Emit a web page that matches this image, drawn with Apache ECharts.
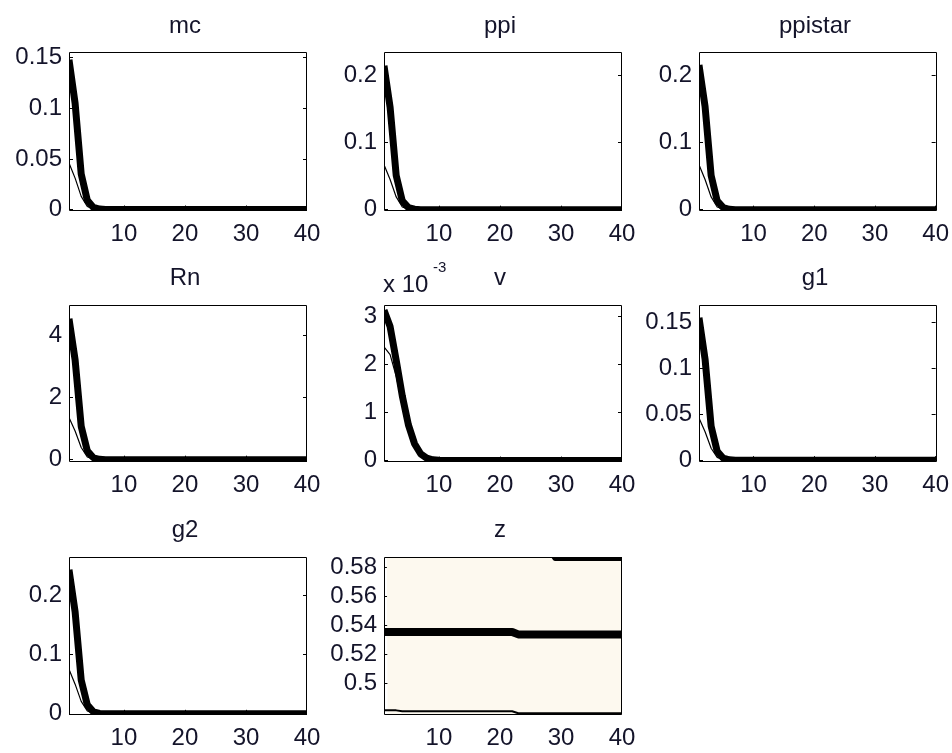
<!DOCTYPE html>
<html>
<head>
<meta charset="utf-8">
<title>IRF</title>
<script src="https://cdn.jsdelivr.net/npm/echarts@6/dist/echarts.min.js"></script>
<style>
  html, body { margin: 0; padding: 0; background: #fff; }
  #chart { width: 952px; height: 753px; }
</style>
</head>
<body>
<div id="chart"></div>
<script>
// horizon of the impulse responses
var periods = [1, 2, 3, 4, 5, 6, 7, 8, 9, 10,
               11, 12, 13, 14, 15, 16, 17, 18, 19, 20,
               21, 22, 23, 24, 25, 26, 27, 28, 29, 30,
               31, 32, 33, 34, 35, 36, 37, 38, 39, 40];
var xTicks = [10, 20, 30, 40];
var xTicksTop = [10, 20, 30];

// mean response (thick line) and lower band (thin line)
var mcMean = [0.148, 0.105, 0.035, 0.009, 0.002, 0.0004, 0, 0, 0, 0,
              0, 0, 0, 0, 0, 0, 0, 0, 0, 0,
              0, 0, 0, 0, 0, 0, 0, 0, 0, 0,
              0, 0, 0, 0, 0, 0, 0, 0, 0, 0];
var mcLower = [0.046, 0.031, 0.013, 0.003, 0.0005, 0, 0, 0, 0, 0,
               0, 0, 0, 0, 0, 0, 0, 0, 0, 0,
               0, 0, 0, 0, 0, 0, 0, 0, 0, 0,
               0, 0, 0, 0, 0, 0, 0, 0, 0, 0];
var mcTicks = [0, 0.05, 0.1, 0.15];

var ppiMean = [0.215, 0.153, 0.051, 0.013, 0.003, 0.0006, 0, 0, 0, 0,
               0, 0, 0, 0, 0, 0, 0, 0, 0, 0,
               0, 0, 0, 0, 0, 0, 0, 0, 0, 0,
               0, 0, 0, 0, 0, 0, 0, 0, 0, 0];
var ppiLower = [0.067, 0.045, 0.019, 0.004, 0.0007, 0, 0, 0, 0, 0,
                0, 0, 0, 0, 0, 0, 0, 0, 0, 0,
                0, 0, 0, 0, 0, 0, 0, 0, 0, 0,
                0, 0, 0, 0, 0, 0, 0, 0, 0, 0];
var ppiTicks = [0, 0.1, 0.2];

var ppistarMean = [0.216, 0.154, 0.051, 0.013, 0.003, 0.0006, 0, 0, 0, 0,
                   0, 0, 0, 0, 0, 0, 0, 0, 0, 0,
                   0, 0, 0, 0, 0, 0, 0, 0, 0, 0,
                   0, 0, 0, 0, 0, 0, 0, 0, 0, 0];
var ppistarLower = [0.067, 0.045, 0.019, 0.004, 0.0007, 0, 0, 0, 0, 0,
                    0, 0, 0, 0, 0, 0, 0, 0, 0, 0,
                    0, 0, 0, 0, 0, 0, 0, 0, 0, 0,
                    0, 0, 0, 0, 0, 0, 0, 0, 0, 0];
var ppistarTicks = [0, 0.1, 0.2];

var rnMean = [4.52, 3.2, 1.07, 0.28, 0.06, 0.012, 0, 0, 0, 0,
              0, 0, 0, 0, 0, 0, 0, 0, 0, 0,
              0, 0, 0, 0, 0, 0, 0, 0, 0, 0,
              0, 0, 0, 0, 0, 0, 0, 0, 0, 0];
var rnLower = [1.35, 0.92, 0.39, 0.09, 0.015, 0, 0, 0, 0, 0,
               0, 0, 0, 0, 0, 0, 0, 0, 0, 0,
               0, 0, 0, 0, 0, 0, 0, 0, 0, 0,
               0, 0, 0, 0, 0, 0, 0, 0, 0, 0];
var rnTicks = [0, 2, 4];

// v is shown in units of 10^-3
var vMean = [3.12, 2.78, 2.08, 1.34, 0.74, 0.35, 0.14, 0.05, 0.015, 0.004,
             0, 0, 0, 0, 0, 0, 0, 0, 0, 0,
             0, 0, 0, 0, 0, 0, 0, 0, 0, 0,
             0, 0, 0, 0, 0, 0, 0, 0, 0, 0];
var vLower = [2.36, 2.2, 1.75, 1.15, 0.62, 0.28, 0.11, 0.035, 0.01, 0.003,
              0, 0, 0, 0, 0, 0, 0, 0, 0, 0,
              0, 0, 0, 0, 0, 0, 0, 0, 0, 0,
              0, 0, 0, 0, 0, 0, 0, 0, 0, 0];
var vTicks = [0, 1, 2, 3];

var g1Mean = [0.155, 0.11, 0.037, 0.0095, 0.0021, 0.0004, 0, 0, 0, 0,
              0, 0, 0, 0, 0, 0, 0, 0, 0, 0,
              0, 0, 0, 0, 0, 0, 0, 0, 0, 0,
              0, 0, 0, 0, 0, 0, 0, 0, 0, 0];
var g1Lower = [0.046, 0.031, 0.013, 0.003, 0.0005, 0, 0, 0, 0, 0,
               0, 0, 0, 0, 0, 0, 0, 0, 0, 0,
               0, 0, 0, 0, 0, 0, 0, 0, 0, 0,
               0, 0, 0, 0, 0, 0, 0, 0, 0, 0];
var g1Ticks = [0, 0.05, 0.1, 0.15];

var g2Mean = [0.243, 0.172, 0.057, 0.015, 0.0033, 0.0007, 0, 0, 0, 0,
              0, 0, 0, 0, 0, 0, 0, 0, 0, 0,
              0, 0, 0, 0, 0, 0, 0, 0, 0, 0,
              0, 0, 0, 0, 0, 0, 0, 0, 0, 0];
var g2Lower = [0.075, 0.05, 0.021, 0.005, 0.0008, 0, 0, 0, 0, 0,
               0, 0, 0, 0, 0, 0, 0, 0, 0, 0,
               0, 0, 0, 0, 0, 0, 0, 0, 0, 0,
               0, 0, 0, 0, 0, 0, 0, 0, 0, 0];
var g2Ticks = [0, 0.1, 0.2];

var zMean = [0.5354, 0.5354, 0.5354, 0.5354, 0.5354, 0.5354, 0.5354, 0.5354, 0.5354, 0.5354,
             0.5354, 0.5354, 0.5354, 0.5354, 0.5354, 0.5354, 0.5354, 0.5354, 0.5354, 0.5354,
             0.5354, 0.5354, 0.5337, 0.5337, 0.5337, 0.5337, 0.5337, 0.5337, 0.5337, 0.5337,
             0.5337, 0.5337, 0.5337, 0.5337, 0.5337, 0.5337, 0.5337, 0.5337, 0.5337, 0.5337];
var zLower = [0.4812, 0.4812, 0.4812, 0.4806, 0.4806, 0.4806, 0.4806, 0.4806, 0.4806, 0.4806,
              0.4806, 0.4806, 0.4806, 0.4806, 0.4806, 0.4806, 0.4806, 0.4806, 0.4806, 0.4806,
              0.4806, 0.4806, 0.4792, 0.4792, 0.4792, 0.4792, 0.4792, 0.4792, 0.4792, 0.4792,
              0.4792, 0.4792, 0.4792, 0.4792, 0.4792, 0.4792, 0.4792, 0.4792, 0.4792, 0.4792];
var zUpper = [0.592, 0.592, 0.592, 0.592, 0.592, 0.592, 0.592, 0.592, 0.592, 0.592,
              0.592, 0.592, 0.592, 0.592, 0.592, 0.592, 0.592, 0.592, 0.592, 0.592,
              0.592, 0.592, 0.592, 0.592, 0.592, 0.592, 0.592, 0.592, 0.5858, 0.5858,
              0.5858, 0.5858, 0.5858, 0.5858, 0.5858, 0.5858, 0.5858, 0.5858, 0.5858, 0.5858];
var zTicks = [0.5, 0.52, 0.54, 0.56, 0.58];

// layout of the 3x3 subplot grid (px)
var colLeft = [69, 384, 699];
var colW = 238;
var rowTop = [52, 305, 557];
var rowH = [159, 157, 158];
var titleTop = [14, 266, 518];

var panels = [
  { name: 'mc', mean: mcMean, lower: mcLower, ticks: mcTicks, min: -0.0015, max: 0.1556, col: 0, row: 0 },
  { name: 'ppi', mean: ppiMean, lower: ppiLower, ticks: ppiTicks, min: -0.002, max: 0.2354, col: 1, row: 0 },
  { name: 'ppistar', mean: ppistarMean, lower: ppistarLower, ticks: ppistarTicks, min: -0.002, max: 0.2354, col: 2, row: 0 },
  { name: 'Rn', mean: rnMean, lower: rnLower, ticks: rnTicks, min: -0.075, max: 4.96, col: 0, row: 1 },
  { name: 'v', mean: vMean, lower: vLower, ticks: vTicks, min: -0.03, max: 3.228, col: 1, row: 1 },
  { name: 'g1', mean: g1Mean, lower: g1Lower, ticks: g1Ticks, min: -0.002, max: 0.169, col: 2, row: 1 },
  { name: 'g2', mean: g2Mean, lower: g2Lower, ticks: g2Ticks, min: -0.002, max: 0.2644, col: 0, row: 2 },
  { name: 'z', mean: zMean, lower: zLower, upper: zUpper, ticks: zTicks, min: 0.478, max: 0.5872, col: 1, row: 2 }
];

var font = "'Liberation Sans', Arial, sans-serif";
var ink = '#14142a';
var bandColor = '#fdf9ef';

function pairs(vals) {
  return periods.map(function (t, k) { return [t, vals[k]]; });
}

var grids = [], xAxes = [], yAxes = [], series = [], titles = [], graphics = [];

panels.forEach(function (p, i) {
  var left = colLeft[p.col], top = rowTop[p.row], h = rowH[p.row];
  grids.push({ left: left, top: top, width: colW, height: h, show: false });

  titles.push({
    text: p.name, left: left + colW / 2 - 3, top: titleTop[p.row], textAlign: 'center', padding: 0,
    textStyle: { fontFamily: font, fontSize: 24, fontWeight: 'normal', color: ink }
  });

  var tick = { show: true, inside: true, length: 4, lineStyle: { color: '#000', width: 1 } };
  xAxes.push({
    gridIndex: i, type: 'value', min: 1, max: 40, position: 'bottom',
    axisLine: { show: false }, splitLine: { show: false },
    axisTick: Object.assign({ customValues: xTicks }, tick),
    axisLabel: { customValues: xTicks, margin: 11, fontFamily: font, fontSize: 24, color: ink }
  });
  xAxes.push({
    gridIndex: i, type: 'value', min: 1, max: 40, position: 'top',
    axisLine: { show: false }, splitLine: { show: false },
    axisTick: Object.assign({ customValues: xTicksTop }, tick),
    axisLabel: { show: false }
  });
  yAxes.push({
    gridIndex: i, type: 'value', min: p.min, max: p.max, position: 'left',
    axisLine: { show: false }, splitLine: { show: false },
    axisTick: Object.assign({ customValues: p.ticks }, tick),
    axisLabel: { customValues: p.ticks, margin: 7, fontFamily: font, fontSize: 24, color: ink }
  });
  yAxes.push({
    gridIndex: i, type: 'value', min: p.min, max: p.max, position: 'right',
    axisLine: { show: false }, splitLine: { show: false },
    axisTick: Object.assign({ customValues: p.ticks }, tick),
    axisLabel: { show: false }
  });

  var xi = 2 * i, yi = 2 * i;
  if (p.upper) {
    // shaded band between lower and upper
    series.push({
      type: 'line', xAxisIndex: xi, yAxisIndex: yi, stack: 'band' + i, symbol: 'none',
      data: pairs(p.lower), lineStyle: { opacity: 0 }, z: 1, silent: true
    });
    series.push({
      type: 'line', xAxisIndex: xi, yAxisIndex: yi, stack: 'band' + i, symbol: 'none',
      data: periods.map(function (t, k) { return [t, p.upper[k] - p.lower[k]]; }),
      lineStyle: { opacity: 0 }, areaStyle: { color: bandColor, opacity: 1 }, z: 1, silent: true
    });
    series.push({
      type: 'line', xAxisIndex: xi, yAxisIndex: yi, symbol: 'none',
      data: pairs(p.upper), lineStyle: { color: '#000', width: 4 }, z: 3
    });
    series.push({
      type: 'line', xAxisIndex: xi, yAxisIndex: yi, symbol: 'none',
      data: pairs(p.lower), lineStyle: { color: '#000', width: 2 }, z: 3
    });
    series.push({
      type: 'line', xAxisIndex: xi, yAxisIndex: yi, symbol: 'none',
      data: pairs(p.mean), lineStyle: { color: '#000', width: 8 }, z: 4
    });
  } else {
    series.push({
      type: 'line', xAxisIndex: xi, yAxisIndex: yi, symbol: 'none',
      data: pairs(p.mean), lineStyle: { color: '#000', width: 7 }, z: 3
    });
    series.push({
      type: 'line', xAxisIndex: xi, yAxisIndex: yi, symbol: 'none',
      data: pairs(p.lower), lineStyle: { color: '#000', width: 1.2 }, z: 4
    });
  }

  // white mask outside the box (hides thick lines spilling past the frame), then the frame
  graphics.push({
    type: 'rect', z: 100, silent: true,
    shape: { x: left - 3, y: top - 3, width: colW + 6, height: h + 6 },
    style: { fill: null, stroke: '#fff', lineWidth: 6 }
  });
  graphics.push({
    type: 'rect', z: 101, silent: true,
    shape: { x: left + 0.5, y: top + 0.5, width: colW - 1, height: h - 1 },
    style: { fill: null, stroke: '#000', lineWidth: 1 }
  });
});

// exponent label of the v panel
graphics.push({
  type: 'text', z: 102, x: 383, y: 285,
  style: { text: 'x 10', font: '24px ' + font, fill: ink, align: 'left', verticalAlign: 'middle',
           textAlign: 'left', textVerticalAlign: 'middle' }
});
graphics.push({
  type: 'text', z: 102, x: 433, y: 268,
  style: { text: '-3', font: '15px ' + font, fill: ink, align: 'left', verticalAlign: 'middle',
           textAlign: 'left', textVerticalAlign: 'middle' }
});

var chart = echarts.init(document.getElementById('chart'));
chart.setOption({
  animation: false,
  backgroundColor: '#fff',
  title: titles,
  grid: grids,
  xAxis: xAxes,
  yAxis: yAxes,
  series: series,
  graphic: graphics
});
</script>
</body>
</html>
